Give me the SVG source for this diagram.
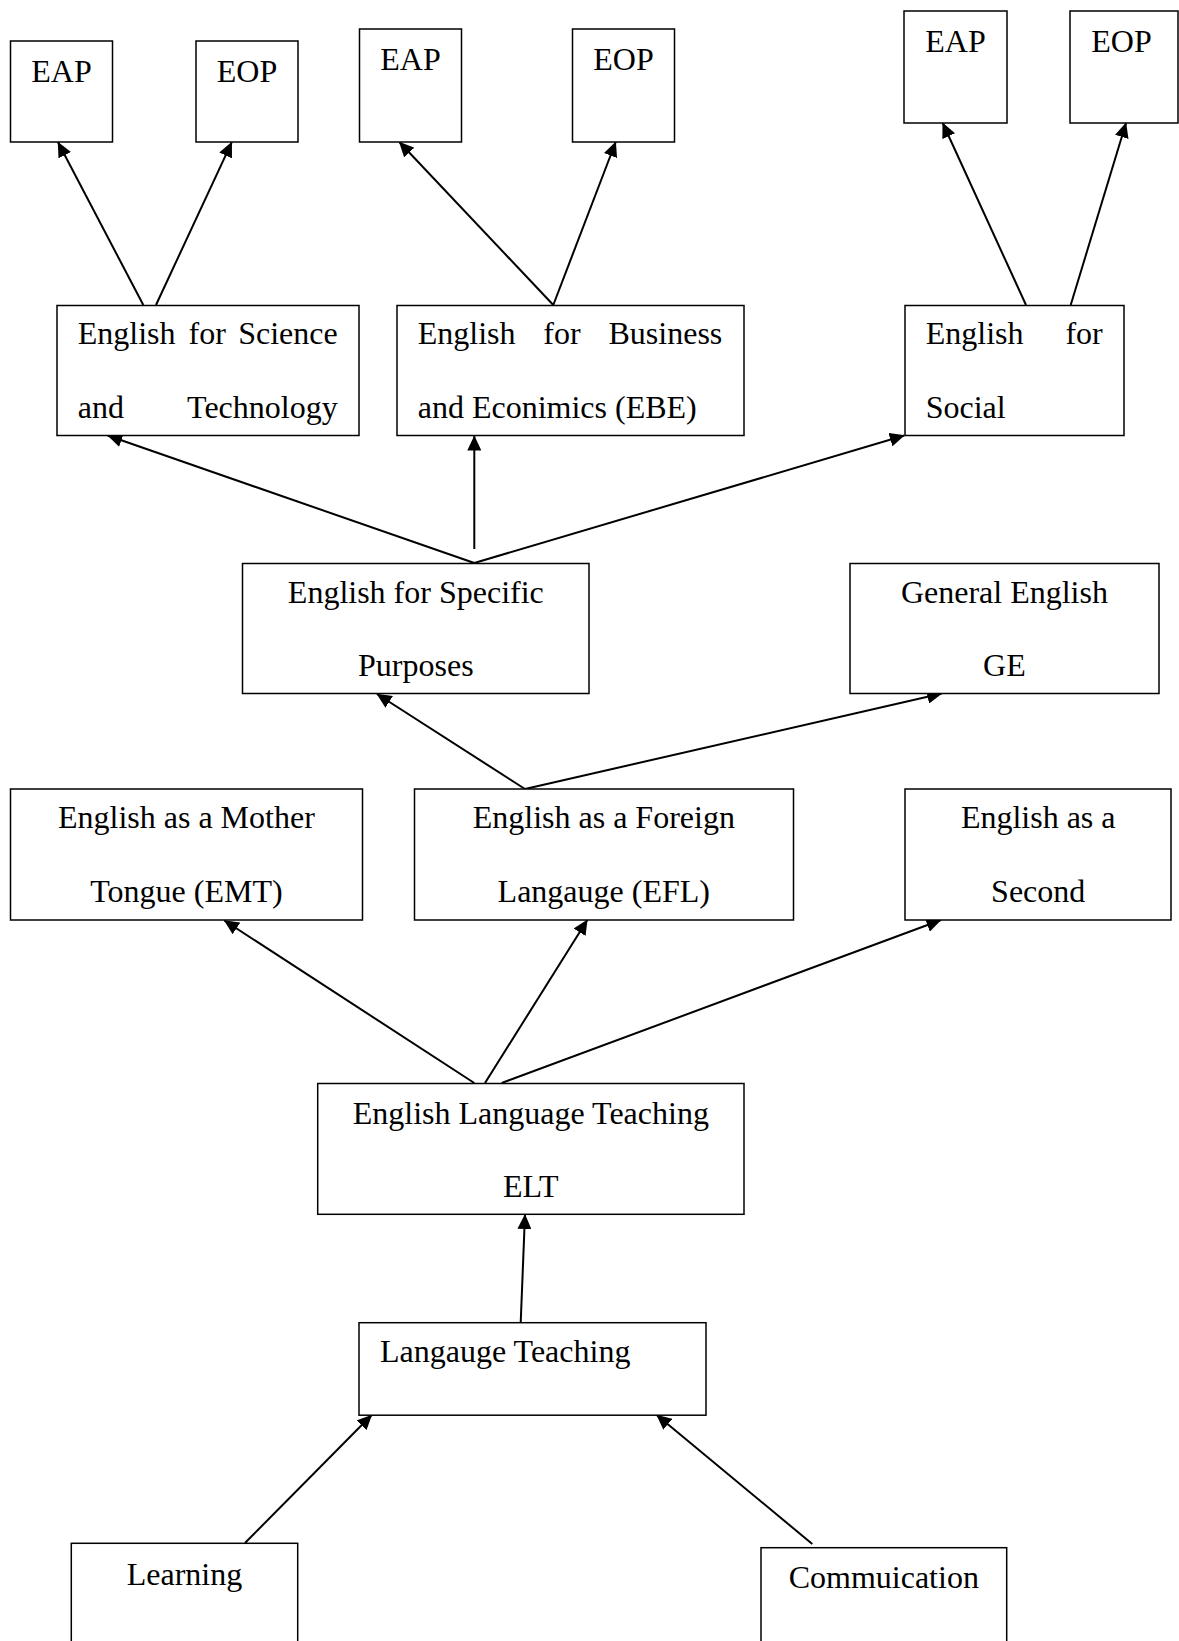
<svg xmlns="http://www.w3.org/2000/svg" width="1179" height="1641" viewBox="0 0 1179 1641">
<style>
.box{fill:#fff;stroke:#000;stroke-width:1.5}
.t{font-family:"Liberation Serif","Times New Roman",serif;font-size:32px;fill:#000}
.c{text-anchor:middle}
.e{text-anchor:end}
.ln{stroke:#000;stroke-width:2;fill:none;marker-end:url(#ah)}
</style>
<defs>
<marker id="ah" viewBox="0 0 15 14" refX="14.5" refY="7" markerWidth="15" markerHeight="14" markerUnits="userSpaceOnUse" orient="auto">
<path d="M0,0 L15,7 L0,14 Z" fill="#000"/>
</marker>
</defs>
<rect width="1179" height="1641" fill="#fff"/>
<g id="connectors">
<line class="ln" x1="143.3" y1="305" x2="58" y2="142.3"/>
<line class="ln" x1="156" y1="305" x2="231.7" y2="142.3"/>
<line class="ln" x1="553.3" y1="305" x2="399.3" y2="142"/>
<line class="ln" x1="553.3" y1="305" x2="615.7" y2="142"/>
<line class="ln" x1="1026" y1="305" x2="942.7" y2="123"/>
<line class="ln" x1="1070.7" y1="305" x2="1126" y2="123"/>
<line class="ln" x1="474.3" y1="563" x2="107.7" y2="435.5"/>
<line class="ln" x1="474.3" y1="549" x2="474.3" y2="436"/>
<line class="ln" x1="474.3" y1="563" x2="904.3" y2="435.5"/>
<line class="ln" x1="525" y1="789" x2="377" y2="694"/>
<line class="ln" x1="525" y1="789" x2="941.7" y2="693.5"/>
<line class="ln" x1="474.3" y1="1083" x2="224.3" y2="920.5"/>
<line class="ln" x1="485" y1="1083" x2="587.3" y2="920"/>
<line class="ln" x1="501.7" y1="1083" x2="941" y2="920"/>
<line class="ln" x1="520.7" y1="1322.5" x2="525" y2="1214.5"/>
<line class="ln" x1="245" y1="1543" x2="371.7" y2="1415"/>
<line class="ln" x1="812.3" y1="1544" x2="656.7" y2="1415"/>
</g>
<g id="eap1"><rect class="box" x="10.5" y="41" width="102" height="101"/><text class="t c" x="61.5" y="82.3">EAP</text></g>
<g id="eop1"><rect class="box" x="196" y="41" width="102" height="101"/><text class="t c" x="247" y="82.3">EOP</text></g>
<g id="eap2"><rect class="box" x="359.5" y="29" width="102" height="113"/><text class="t c" x="410.5" y="70">EAP</text></g>
<g id="eop2"><rect class="box" x="572.5" y="29" width="102" height="113"/><text class="t c" x="623.5" y="70">EOP</text></g>
<g id="eap3"><rect class="box" x="904" y="11" width="103" height="112"/><text class="t c" x="955.5" y="51.7">EAP</text></g>
<g id="eop3"><rect class="box" x="1070" y="11" width="108" height="112"/><text class="t c" x="1121.5" y="51.7">EOP</text></g>
<g id="est"><rect class="box" x="57" y="305.5" width="302" height="130"/>
<text class="t" x="77.7" y="344">English</text><text class="t" x="188.5" y="344">for</text><text class="t e" x="337.7" y="344">Science</text>
<text class="t" x="77.7" y="418">and</text><text class="t e" x="337.7" y="418">Technology</text></g>
<g id="ebe"><rect class="box" x="397" y="305.5" width="347" height="130"/>
<text class="t" x="417.7" y="344">English</text><text class="t" x="543.3" y="344">for</text><text class="t e" x="722.3" y="344">Business</text>
<text class="t" x="417.7" y="418">and Econimics (EBE)</text></g>
<g id="esoc"><rect class="box" x="905" y="305.5" width="219" height="130"/>
<text class="t" x="925.7" y="344">English</text><text class="t e" x="1102.7" y="344">for</text>
<text class="t" x="925.7" y="418">Social</text></g>
<g id="esp"><rect class="box" x="242.5" y="563.5" width="346.5" height="130"/>
<text class="t c" x="415.8" y="602.7">English for Specific</text><text class="t c" x="415.8" y="676">Purposes</text></g>
<g id="ge"><rect class="box" x="850" y="563.5" width="309" height="130"/>
<text class="t c" x="1004.4" y="602.7">General English</text><text class="t c" x="1004.4" y="676">GE</text></g>
<g id="emt"><rect class="box" x="10.5" y="789" width="352" height="131"/>
<text class="t c" x="186.4" y="828.3">English as a Mother</text><text class="t c" x="186.4" y="901.7">Tongue (EMT)</text></g>
<g id="efl"><rect class="box" x="414.5" y="789" width="379" height="131"/>
<text class="t c" x="603.8" y="828.3">English as a Foreign</text><text class="t c" x="603.8" y="901.7">Langauge (EFL)</text></g>
<g id="esl"><rect class="box" x="905" y="789" width="266" height="131"/>
<text class="t c" x="1038.2" y="828.3">English as a</text><text class="t c" x="1038.2" y="901.7">Second</text></g>
<g id="elt"><rect class="box" x="317.7" y="1083.5" width="426.3" height="130.8"/>
<text class="t c" x="530.8" y="1124">English Language Teaching</text><text class="t c" x="530.8" y="1196.7">ELT</text></g>
<g id="lt"><rect class="box" x="359" y="1322.7" width="347" height="92.5"/>
<text class="t" x="380" y="1362.3">Langauge Teaching</text></g>
<g id="learning"><rect class="box" x="71.3" y="1543.3" width="226.4" height="100"/>
<text class="t c" x="184.5" y="1585">Learning</text></g>
<g id="commuication"><rect class="box" x="761" y="1547.7" width="245.7" height="100"/>
<text class="t c" x="883.8" y="1587.7">Commuication</text></g>
</svg>
